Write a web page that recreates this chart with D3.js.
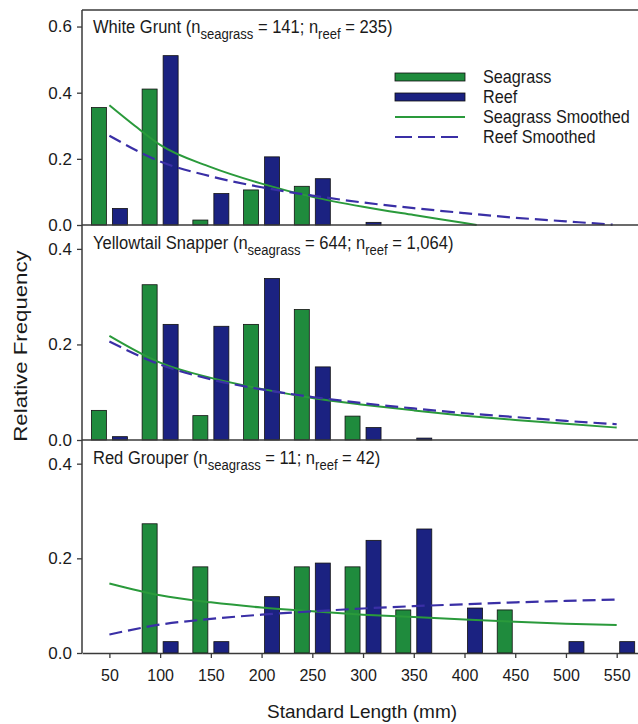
<!DOCTYPE html>
<html><head><meta charset="utf-8">
<script src="https://cdn.jsdelivr.net/npm/d3@7"></script>
<style>
body{margin:0;background:#fff}
svg{display:block}
text{font-family:"Liberation Sans",Arial,Helvetica,sans-serif;fill:#1a1a1a}
</style>
</head><body>
<svg id="c" width="638" height="724"></svg>
<script>
// ---------- data ----------
const bins = [50,100,150,200,250,300,350,400,450,500,550];
const xTicks = [50,100,150,200,250,300,350,400,450,500,550];

// White Grunt
const wgSeagrass = [0.355,0.411,0.015,0.106,0.117,0,0,0,0,0,0];
const wgReef     = [0.050,0.512,0.095,0.206,0.140,0.008,0,0,0,0,0];
const wgSeagrassSmoothX = [50,75,100,150,200,250,300,350,400,412];
const wgSeagrassSmooth  = [0.362,0.300,0.242,0.175,0.125,0.085,0.055,0.030,0.006,0];
const wgReefSmoothX = [50,100,150,200,250,300,350,400,450,500,546];
const wgReefSmooth  = [0.270,0.192,0.147,0.114,0.089,0.068,0.051,0.036,0.022,0.011,0.001];

// Yellowtail Snapper
const ytSeagrass = [0.062,0.325,0.051,0.242,0.273,0.050,0,0,0,0,0];
const ytReef     = [0.007,0.242,0.238,0.338,0.153,0.026,0.004,0,0,0,0];
const ytSmoothX = [50,100,150,200,250,300,350,400,450,500,550];
const ytSeagrassSmooth = [0.218,0.162,0.130,0.107,0.088,0.074,0.062,0.051,0.042,0.034,0.026];
const ytReefSmooth     = [0.206,0.158,0.127,0.106,0.090,0.077,0.066,0.056,0.048,0.040,0.033];

// Red Grouper
const rgSeagrass = [0,0.273,0.182,0,0.182,0.182,0.091,0,0.091,0,0];
const rgReef     = [0,0.024,0.024,0.119,0.190,0.238,0.262,0.095,0,0.024,0.024];
const rgSmoothX = [50,100,150,200,250,300,350,400,450,500,550];
const rgSeagrassSmooth = [0.147,0.122,0.107,0.096,0.088,0.081,0.076,0.071,0.066,0.062,0.059];
const rgReefSmooth     = [0.039,0.060,0.072,0.081,0.088,0.094,0.099,0.103,0.107,0.110,0.113];

const titles = [
  ["White Grunt (n","seagrass"," = 141; n","reef"," = 235)"],
  ["Yellowtail Snapper (n","seagrass"," = 644; n","reef"," = 1,064)"],
  ["Red Grouper (n","seagrass"," = 11; n","reef"," = 42)"]
];
const yTicksTop = [0,0.2,0.4,0.6];
const yTicksOther = [0,0.2,0.4];
const legendLabels = ["Seagrass","Reef","Seagrass Smoothed","Reef Smoothed"];

// ---------- style ----------
const GREEN = "#1f8b3d", BLUE = "#1b2281", GLINE = "#2a9a3b", BLINE = "#3a2fa6", AX = "#3a3a3a";

const svg = d3.select("#c");
const x = d3.scaleLinear().domain([23, 571]).range([82, 638]);

const panels = [
  {title:titles[0], sg:wgSeagrass, rf:wgReef, sgx:wgSeagrassSmoothX, sgy:wgSeagrassSmooth, rfx:wgReefSmoothX, rfy:wgReefSmooth, top:10, bot:225, ymax:0.65, ticks:yTicksTop, ty:33},
  {title:titles[1], sg:ytSeagrass, rf:ytReef, sgx:ytSmoothX, sgy:ytSeagrassSmooth, rfx:ytSmoothX, rfy:ytReefSmooth, top:225, bot:440, ymax:0.45, ticks:yTicksOther, ty:249},
  {title:titles[2], sg:rgSeagrass, rf:rgReef, sgx:rgSmoothX, sgy:rgSeagrassSmooth, rfx:rgSmoothX, rfy:rgReefSmooth, top:440, bot:653, ymax:0.45, ticks:yTicksOther, ty:464}
];

const barW = 15;

panels.forEach((p, i) => {
  const y = d3.scaleLinear().domain([0, p.ymax]).range([p.bot, p.top]);
  const g = svg.append("g");

  // bars
  const sgData = bins.map((b,j)=>({b, v:p.sg[j]})).filter(d=>d.v>0);
  const rfData = bins.map((b,j)=>({b, v:p.rf[j]})).filter(d=>d.v>0);
  g.selectAll(".sg").data(sgData).join("rect")
    .attr("x", d=>x(d.b)-18).attr("width", barW)
    .attr("y", d=>y(d.v)).attr("height", d=>y(0)-y(d.v))
    .attr("fill", GREEN).attr("stroke","#111").attr("stroke-width",0.8);
  g.selectAll(".rf").data(rfData).join("rect")
    .attr("x", d=>x(d.b)+3).attr("width", barW)
    .attr("y", d=>y(d.v)).attr("height", d=>y(0)-y(d.v))
    .attr("fill", BLUE).attr("stroke","#111").attr("stroke-width",0.8);

  // smoothed lines
  const line = d3.line().x(d=>x(d[0])).y(d=>y(d[1])).curve(d3.curveMonotoneX);
  g.append("path").datum(p.sgx.map((v,j)=>[v,p.sgy[j]]))
    .attr("d", line).attr("fill","none").attr("stroke",GLINE).attr("stroke-width",2);
  g.append("path").datum(p.rfx.map((v,j)=>[v,p.rfy[j]]))
    .attr("d", line).attr("fill","none").attr("stroke",BLINE).attr("stroke-width",2.2)
    .attr("stroke-dasharray","13,6");

  // y axis
  const ya = g.append("g").attr("transform",`translate(${x.range()[0]},0)`)
    .call(d3.axisLeft(y).tickValues(p.ticks).tickFormat(d3.format(".1f")).tickSize(5).tickPadding(5).tickSizeOuter(0));
  ya.select(".domain").remove();
  ya.selectAll("line").attr("stroke",AX).attr("stroke-width",1.3);
  ya.selectAll("text").style("font-size","17px").style("font-family",'"Liberation Sans",Arial,sans-serif').attr("fill","#1a1a1a");
  g.append("line").attr("x1",x.range()[0]).attr("x2",x.range()[0]).attr("y1",p.top).attr("y2",p.bot)
    .attr("stroke",AX).attr("stroke-width",1.5);

  // x axis
  if (i === 2) {
    const xa = g.append("g").attr("transform",`translate(0,${p.bot})`)
      .call(d3.axisBottom(x).tickValues(xTicks).tickFormat(d3.format("d")).tickSize(5).tickPadding(12).tickSizeOuter(0));
    xa.select(".domain").attr("stroke",AX).attr("stroke-width",1.5);
    xa.selectAll("line").attr("stroke",AX).attr("stroke-width",1.3);
    xa.selectAll("text").style("font-size","16px").style("font-family",'"Liberation Sans",Arial,sans-serif').attr("fill","#1a1a1a");
  } else {
    g.append("line").attr("x1",x.range()[0]).attr("x2",x.range()[1]).attr("y1",p.bot).attr("y2",p.bot)
      .attr("stroke",AX).attr("stroke-width",1.5);
  }
  if (i === 0) {
    g.append("line").attr("x1",x.range()[0]).attr("x2",x.range()[1]).attr("y1",p.top).attr("y2",p.top)
      .attr("stroke",AX).attr("stroke-width",1.5);
  }

  // title
  const t = g.append("text").attr("transform",`translate(93,${p.ty}) scale(0.87,1)`).style("font-size","19px");
  p.title.forEach((s,k)=>{
    const sub = k % 2 === 1;
    t.append("tspan").text(s)
      .attr("dy", sub ? 6 : (k>0 ? -6 : 0))
      .style("font-size", sub ? "15px" : "19px");
  });
});

// legend
const lg = svg.append("g");
const lx0 = 395, lx1 = 465;
lg.append("rect").attr("x",lx0).attr("y",73).attr("width",lx1-lx0).attr("height",8).attr("fill",GREEN).attr("stroke","#111").attr("stroke-width",0.8);
lg.append("rect").attr("x",lx0).attr("y",93).attr("width",lx1-lx0).attr("height",8).attr("fill",BLUE).attr("stroke","#111").attr("stroke-width",0.8);
lg.append("line").attr("x1",lx0).attr("x2",lx1).attr("y1",117).attr("y2",117).attr("stroke",GLINE).attr("stroke-width",2);
lg.append("line").attr("x1",lx0).attr("x2",lx1-5).attr("y1",137).attr("y2",137).attr("stroke",BLINE).attr("stroke-width",2.2).attr("stroke-dasharray","17,6");
legendLabels.forEach((s,k)=>{
  lg.append("text").attr("transform",`translate(483,${83+k*20}) scale(0.9,1)`).style("font-size","18px").text(s);
});

// axis titles
svg.append("text").attr("transform","translate(27,346) rotate(-90) scale(1.17,1)")
  .attr("text-anchor","middle").style("font-size","19px").text("Relative Frequency");
svg.append("text").attr("transform","translate(362,718)")
  .attr("text-anchor","middle").style("font-size","19px").text("Standard Length (mm)");
</script>
</body></html>
